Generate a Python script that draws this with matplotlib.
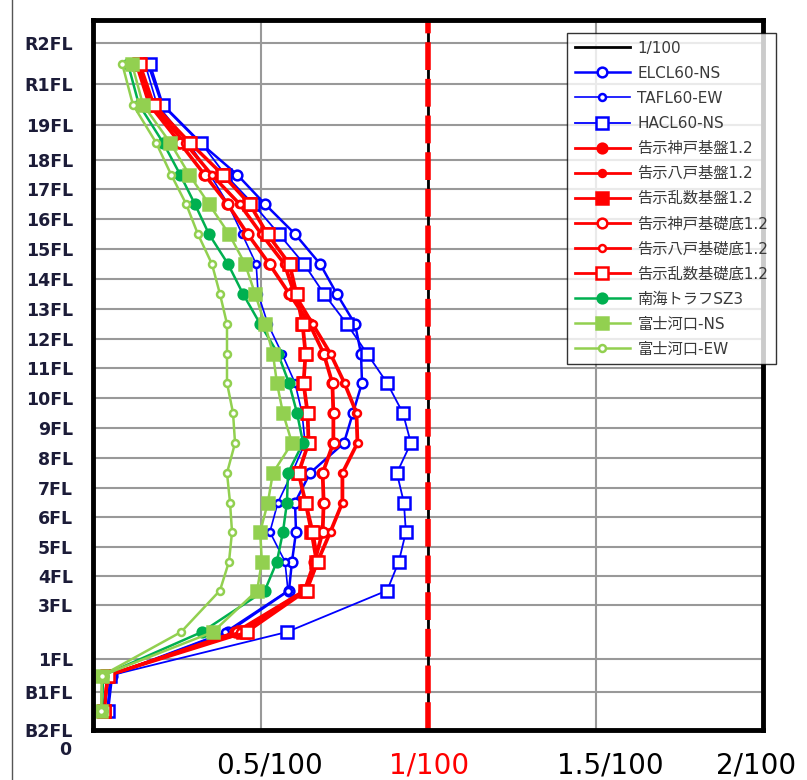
import matplotlib
matplotlib.use('Agg')
import matplotlib.pyplot as plt
import numpy as np

plt.rcParams['font.family'] = ['DejaVu Sans', 'Noto Sans CJK JP']

# floors (bottom -> top) and their heights
floor_labels = ['B2FL', 'B1FL', '1FL', '3FL', '4FL', '5FL', '6FL', '7FL', '8FL', '9FL', '10FL',
                '11FL', '12FL', '13FL', '14FL', '15FL', '16FL', '17FL', '18FL', '19FL', 'R1FL', 'R2FL']
floor_levels = [0, 38, 71, 125, 154, 183, 213, 242, 272, 302, 332,
                362, 391, 421, 451, 481, 511, 541, 570, 605, 646, 687]

# story drift (x 1/100), one value per story, bottom -> top
elcl60_ns = [0.045, 0.057, 0.403, 0.585, 0.594, 0.606, 0.603, 0.648, 0.749, 0.776, 0.803,
             0.800, 0.782, 0.728, 0.678, 0.603, 0.513, 0.430, 0.319, 0.206, 0.164]
tafl60_ew = [0.042, 0.051, 0.394, 0.582, 0.573, 0.528, 0.552, 0.594, 0.633, 0.624, 0.603,
             0.564, 0.522, 0.493, 0.487, 0.445, 0.403, 0.349, 0.284, 0.191, 0.155]
hacl60_ns = [0.045, 0.051, 0.579, 0.878, 0.913, 0.934, 0.928, 0.907, 0.949, 0.925, 0.878,
             0.818, 0.758, 0.690, 0.630, 0.555, 0.478, 0.394, 0.322, 0.209, 0.170]
kobe_kiban = [0.033, 0.043, 0.425, 0.630, 0.660, 0.684, 0.687, 0.684, 0.716, 0.716, 0.713,
              0.687, 0.645, 0.585, 0.525, 0.460, 0.400, 0.331, 0.257, 0.167, 0.128]
hachinohe_kiban = [0.033, 0.043, 0.434, 0.633, 0.669, 0.707, 0.743, 0.743, 0.788, 0.785, 0.749,
                   0.707, 0.654, 0.600, 0.570, 0.501, 0.436, 0.352, 0.272, 0.173, 0.131]
ransu_kiban = [0.033, 0.042, 0.448, 0.633, 0.666, 0.651, 0.633, 0.612, 0.642, 0.639, 0.627,
               0.633, 0.624, 0.606, 0.585, 0.519, 0.466, 0.385, 0.287, 0.179, 0.137]
kobe_kisotei = [0.033, 0.045, 0.430, 0.633, 0.663, 0.687, 0.690, 0.687, 0.719, 0.719, 0.716,
                0.690, 0.648, 0.588, 0.528, 0.463, 0.403, 0.334, 0.260, 0.170, 0.131]
hachinohe_kisotei = [0.033, 0.045, 0.439, 0.636, 0.672, 0.710, 0.746, 0.746, 0.791, 0.788, 0.752,
                     0.710, 0.657, 0.603, 0.573, 0.504, 0.439, 0.355, 0.275, 0.176, 0.134]
ransu_kisotei = [0.033, 0.045, 0.460, 0.639, 0.672, 0.657, 0.636, 0.615, 0.645, 0.642, 0.630,
                 0.636, 0.627, 0.609, 0.588, 0.522, 0.469, 0.388, 0.290, 0.182, 0.140]
nankai_sz3 = [0.027, 0.030, 0.325, 0.513, 0.549, 0.567, 0.579, 0.582, 0.627, 0.609, 0.585,
              0.552, 0.499, 0.448, 0.403, 0.346, 0.304, 0.260, 0.209, 0.137, 0.104]
fujikawaguchi_ns = [0.024, 0.027, 0.358, 0.490, 0.504, 0.499, 0.522, 0.537, 0.594, 0.567, 0.549,
                    0.537, 0.513, 0.484, 0.454, 0.406, 0.346, 0.287, 0.230, 0.149, 0.116]
fujikawaguchi_ew = [0.024, 0.027, 0.263, 0.379, 0.406, 0.415, 0.409, 0.400, 0.424, 0.418, 0.400,
                    0.400, 0.400, 0.379, 0.355, 0.313, 0.278, 0.233, 0.188, 0.119, 0.087]

limit_value = 1.0
x_tick_vals = [0.5, 1.0, 1.5, 2.0]
x_tick_labels = ['0.5/100', '1/100', '1.5/100', '2/100']

levels = np.array(floor_levels, dtype=float)
story_mid = (levels[:-1] + levels[1:]) / 2

BLUE = '#0000FF'
RED = '#FF0000'
GREEN = '#00B050'
LGREEN = '#92D050'

fig = plt.figure(figsize=(8.07, 7.8), dpi=100)
ax = fig.add_axes([93 / 807, 50 / 780, 670 / 807, 710 / 780])

ax.set_xlim(0, 2)
ax.set_ylim(0, 710)

# grid
for lv in levels[1:]:
    ax.axhline(lv, color='#999999', lw=1.5, zorder=0)
for xv in x_tick_vals[:-1]:
    ax.axvline(xv, color='#999999', lw=1.5, zorder=0)

# 1/100 line
ax.plot([limit_value, limit_value], [0, 710], color='black', lw=2, label='1/100', zorder=1)
ax.plot([limit_value, limit_value], [0, 710], color=RED, lw=4, dashes=(5, 1.6), zorder=1.5)

series = [
    (elcl60_ns, 'ELCL60-NS', BLUE, 'o', 7, 'white', 1.8),
    (tafl60_ew, 'TAFL60-EW', BLUE, 'o', 5, 'white', 1.2),
    (hacl60_ns, 'HACL60-NS', BLUE, 's', 8, 'white', 1.3),
    (kobe_kiban, '告示神戸基盤1.2', RED, 'o', 7, RED, 2.0),
    (hachinohe_kiban, '告示八戸基盤1.2', RED, 'o', 5, RED, 2.0),
    (ransu_kiban, '告示乱数基盤1.2', RED, 's', 8, RED, 2.0),
    (kobe_kisotei, '告示神戸基礎底1.2', RED, 'o', 7, 'white', 2.0),
    (hachinohe_kisotei, '告示八戸基礎底1.2', RED, 'o', 5, 'white', 2.0),
    (ransu_kisotei, '告示乱数基礎底1.2', RED, 's', 8, 'white', 2.0),
    (nankai_sz3, '南海トラフSZ3', GREEN, 'o', 7, GREEN, 1.8),
    (fujikawaguchi_ns, '富士河口-NS', LGREEN, 's', 8, LGREEN, 1.8),
    (fujikawaguchi_ew, '富士河口-EW', LGREEN, 'o', 5, 'white', 1.8),
]
for vals, name, col, mk, ms, fc, lw in series:
    ax.plot(vals, story_mid, color=col, lw=lw, marker=mk, ms=ms, mfc=fc, mec=col,
            mew=1.8, label=name, zorder=2)

# frame
for sp in ax.spines.values():
    sp.set_linewidth(3.5)
    sp.set_color('black')

ax.set_xticks([])
ax.set_yticks(levels)
ax.set_yticklabels(floor_labels)
ax.tick_params(axis='y', length=0, pad=14.5, labelsize=12.5, labelcolor='#1c1c38')
for t in ax.get_yticklabels():
    t.set_fontweight('bold')

# x labels drawn below the frame
tick_fig_x = [270, 429, 610, 756]
tick_colors = ['black', RED, 'black', 'black']
for px, lab, c in zip(tick_fig_x, x_tick_labels, tick_colors):
    fig.text(px / 807, 1 - 766 / 780, lab, ha='center', va='center', fontsize=20,
             color=c, family=['Liberation Sans Narrow', 'DejaVu Sans'])
fig.text(65 / 807, 1 - 750 / 780, '0', ha='center', va='center', fontsize=12.5,
         fontweight='bold', color='#1c1c38')

# thin outer rule on the left
fig.add_artist(plt.Line2D([12 / 807, 12 / 807], [0, 1], color='#555555', lw=1))

leg = ax.legend(loc='upper left', bbox_to_anchor=(567 / 807, 1 - 33 / 780),
                bbox_transform=fig.transFigure, borderaxespad=0, frameon=True,
                fancybox=False, edgecolor='black', fontsize=11, labelspacing=0.66,
                handlelength=3.6, handletextpad=0.5, borderpad=0.5)
leg.get_frame().set_linewidth(1.0)
leg.set_zorder(5)
for t in leg.get_texts():
    t.set_color('#3a3a3a')

fig.savefig('out.png', dpi=100)
